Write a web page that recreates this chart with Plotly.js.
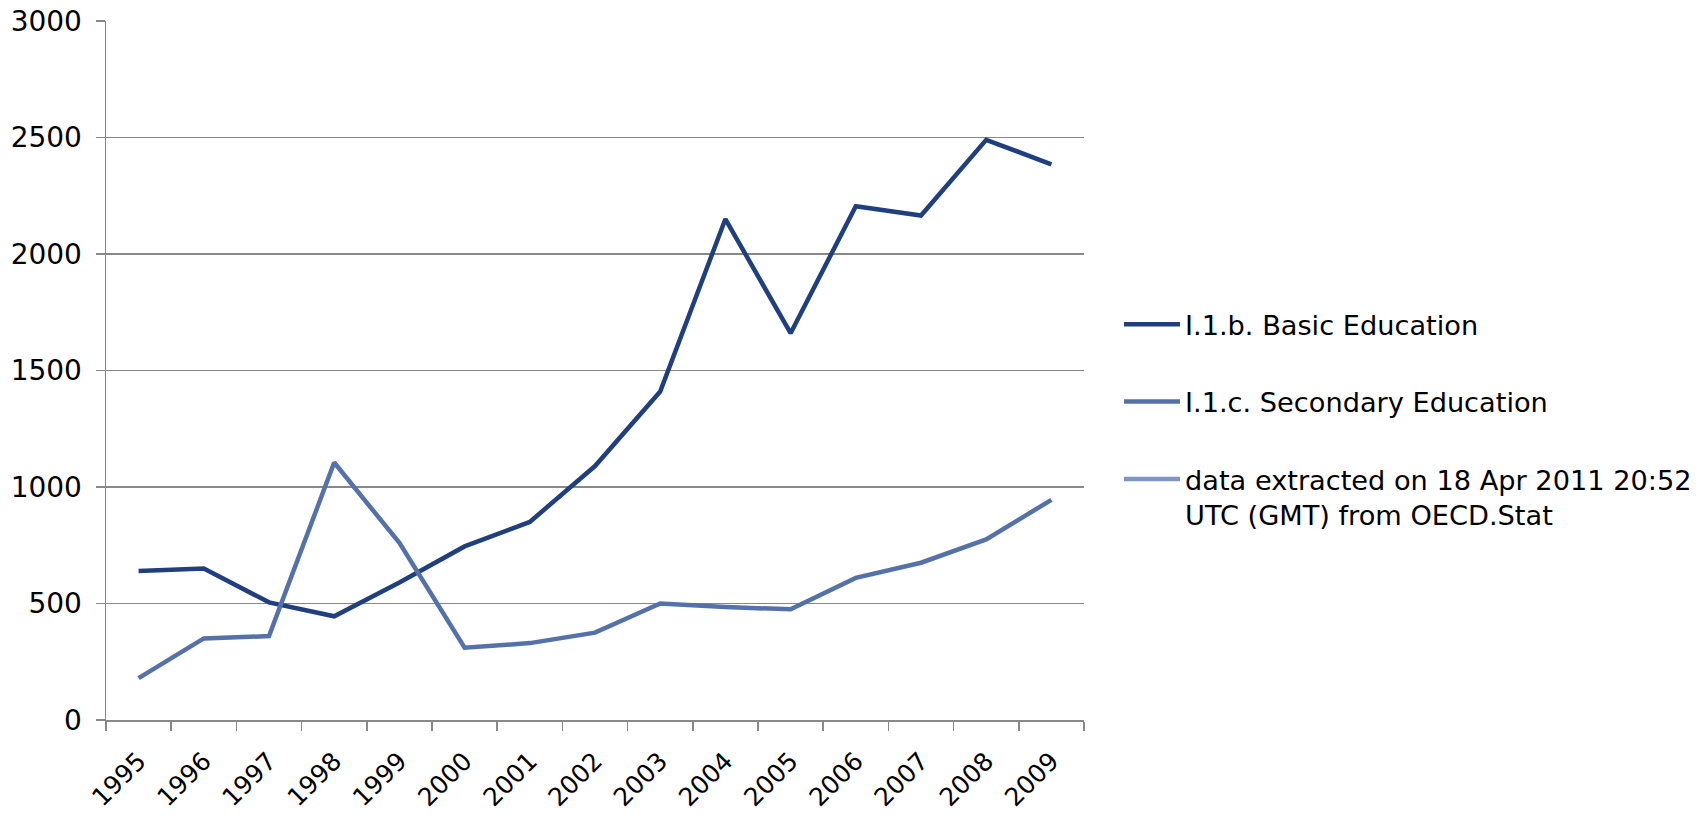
<!DOCTYPE html>
<html>
<head>
<meta charset="utf-8">
<script src="https://cdn.plot.ly/plotly-3.0.1.min.js"></script>
<style>html,body{margin:0;padding:0;background:#fff;}#chart{width:1700px;height:816px;}</style>
</head>
<body>
<div id="chart"></div>
<script>
const years = ['1995','1996','1997','1998','1999','2000','2001','2002','2003','2004','2005','2006','2007','2008','2009'];
const basicEducation = [640, 650, 505, 445, 590, 745, 850, 1090, 1410, 2150, 1660, 2205, 2165, 2490, 2385];
const secondaryEducation = [180, 350, 360, 1105, 760, 310, 330, 375, 500, 485, 475, 610, 675, 775, 945];
const noteValues = [null, null, null, null, null, null, null, null, null, null, null, null, null, null, null];
const seriesNames = ['I.1.b. Basic Education', 'I.1.c. Secondary Education', 'data extracted on 18 Apr 2011 20:52<br>UTC (GMT) from OECD.Stat'];
const yTicks = [0, 500, 1000, 1500, 2000, 2500, 3000];

const family = 'DejaVu Sans, Verdana, sans-serif';
const legendFont = {family: family, size: 27.2, color: '#000'};
const yFont = {family: family, size: 28, color: '#000'};
const xFont = {family: family, size: 25, color: '#000'};
const traces = [
  {x: years, y: basicEducation, name: seriesNames[0], type: 'scatter', mode: 'lines',
   line: {color: '#1F3F7E', width: 4.5}, legendgroup: 'a'},
  {x: years, y: secondaryEducation, name: seriesNames[1], type: 'scatter', mode: 'lines',
   line: {color: '#5571A9', width: 4.5}, legendgroup: 'b'},
  {x: years, y: noteValues, name: seriesNames[2], type: 'scatter', mode: 'lines',
   line: {color: '#8094C5', width: 4.5}, legendgroup: 'c', showlegend: true}
];
const layout = {
  width: 1700, height: 816,
  margin: {l: 106, r: 616, t: 21, b: 96, pad: 0},
  paper_bgcolor: '#fff', plot_bgcolor: '#fff',
  font: legendFont,
  showlegend: true,
  legend: {xref: 'container', yref: 'container', x: 1119/1700, y: 1 - 300/816, xanchor: 'left', yanchor: 'top',
           font: legendFont, traceorder: 'grouped', tracegroupgap: 39, itemwidth: 56, valign: 'top',
           bgcolor: 'rgba(0,0,0,0)'},
  xaxis: {type: 'category', range: [-0.5, 14.5], tickson: 'boundaries', ticks: 'outside', ticklen: 9,
          tickcolor: '#888', tickwidth: 1.5, showline: true, linecolor: '#888', linewidth: 1.5,
          showgrid: false, tickangle: -45, automargin: false, tickfont: xFont, ticklabelstandoff: 15,
          fixedrange: true},
  yaxis: {range: [0, 3000], tickvals: yTicks, ticktext: yTicks.map(String), ticks: 'outside', ticklen: 9,
          tickcolor: '#888', tickwidth: 1.5, showline: true, linecolor: '#888', linewidth: 1.5,
          showgrid: true, gridcolor: '#888', gridwidth: 1.3, zeroline: false, automargin: false,
          tickfont: yFont, ticklabelstandoff: 8, fixedrange: true}
};
Plotly.newPlot('chart', traces, layout, {displayModeBar: false, staticPlot: true});
</script>
</body>
</html>
